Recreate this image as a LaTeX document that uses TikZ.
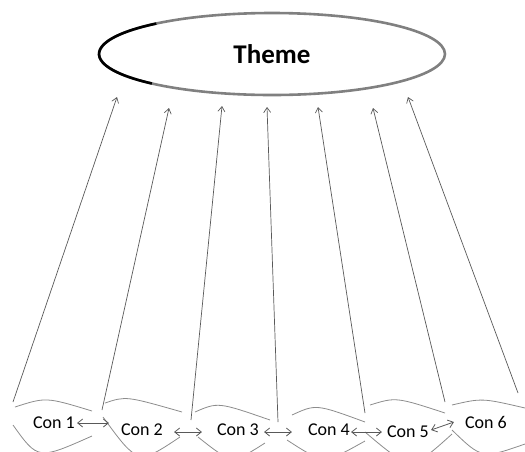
\documentclass[tikz,border=0pt]{standalone}
\usepackage{fontspec}
\setmainfont{Carlito}
\usetikzlibrary{shapes.geometric,arrows.meta,calc}
\begin{document}
\begin{tikzpicture}[x=1pt,y=-1pt,
  con/.style={inner sep=0pt, font=\fontsize{18}{20}\selectfont},
  lens/.style={draw=black!45, line width=0.8pt},
  up/.style={draw=black!65, line width=0.7pt, -{Straight Barb[length=5pt,width=7pt]}},
  dbl/.style={draw=black!65, line width=0.8pt, {Straight Barb[length=5pt,width=8pt]}-{Straight Barb[length=5pt,width=8pt]}},
  theme/.style={ellipse, draw=black!50, line width=2.6pt, minimum width=346pt, minimum height=82pt, inner sep=0pt, font=\fontsize{27}{30}\selectfont\bfseries}]
\useasboundingbox (0,0) rectangle (525,451);

% theme
\node[theme] (th) at (272,54) {Theme};
\draw[black, line width=2.6pt] ($(th.center)+(134:173 and 41)$) arc[start angle=134, end angle=228, x radius=173, y radius=41];

% concepts
\node[con] (c1) at (54,423) {Con 1};
\node[con] (c2) at (142,430) {Con 2};
\node[con] (c3) at (238,430) {Con 3};
\node[con] (c4) at (329,430) {Con 4};
\node[con] (c5) at (408,432) {Con 5};
\node[con] (c6) at (486,422) {Con 6};

% lens outlines
\draw[lens] (15,407) .. controls (46,397) .. (92,411);
\draw[lens] (13,425) .. controls (38,460) .. (92,436);
\draw[lens] (105,403) .. controls (126,396) .. (182,412);
\draw[lens] (103,417) .. controls (138,465) .. (180,437);
\draw[lens] (195,412) .. controls (218,402) .. (270,420);
\draw[lens] (198,437) .. controls (232,464) .. (265,443);
\draw[lens] (292,415) .. controls (316,404) .. (365,422);
\draw[lens] (287,440) .. controls (324,464) .. (365,441);
\draw[lens] (370,405) .. controls (396,397) .. (445,413);
\draw[lens] (365,432) .. controls (411,471) .. (452,434);
\draw[lens] (452,405) .. controls (482,398) .. (525,408);
\draw[lens] (452,430) .. controls (482,459) .. (525,444);

% arrow ends
\coordinate (s1) at (13,402);  \coordinate (t1) at (117,97);
\coordinate (s2) at (102,410); \coordinate (t2) at (169,108);
\coordinate (s3) at (191,420); \coordinate (t3) at (222,106);
\coordinate (s4) at (278,422); \coordinate (t4) at (267,107);
\coordinate (s5) at (365,413); \coordinate (t5) at (318,107);
\coordinate (s6) at (445,402); \coordinate (t6) at (373,108);
\coordinate (s7) at (518,393); \coordinate (t7) at (408,97);
\foreach \i in {1,...,7} { \draw[up] (s\i) -- (t\i); }

% links between concepts
\draw[dbl] ($(c1.east)+(2,0)$) -- ($(c1.east -| c2.west)+(-12,0)$);
\draw[dbl] ($(c2.east)+(11,2)$) -- ($(c2.east -| c3.west)+(-15,2)$);
\draw[dbl] ($(c3.east)+(5,2)$) -- ($(c3.east -| c4.west)+(-16,2)$);
\draw[dbl] ($(c4.east)+(1,2)$) -- ($(c4.east -| c5.west)+(-5,2)$);
\draw[dbl] ($(c5.east)+(2,-2)$) -- ($(c6.west)+(-11,0)$);
\end{tikzpicture}
\end{document}
